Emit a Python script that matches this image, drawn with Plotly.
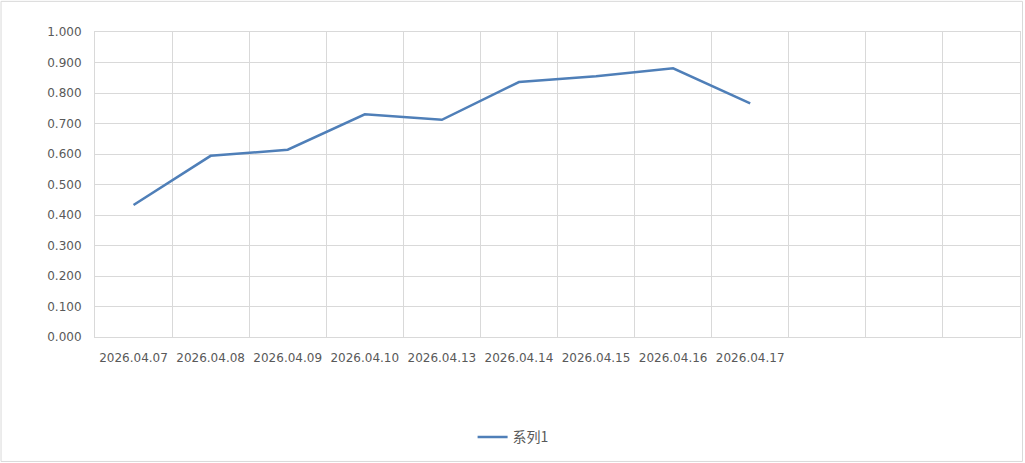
import plotly.graph_objects as go

dates = ["2026.04.07", "2026.04.08", "2026.04.09", "2026.04.10", "2026.04.13",
         "2026.04.14", "2026.04.15", "2026.04.16", "2026.04.17"]
empty_slots = [" ", "  ", "   "]
values = [0.433, 0.594, 0.614, 0.730, 0.712, 0.836, 0.855, 0.881, 0.766]
series_name = "系列1"

grid = "#d9d9d9"
txt = "#595959"

fig = go.Figure()
fig.add_trace(go.Scatter(
    x=dates, y=values, mode="lines", name=series_name,
    line=dict(color="#4f7fb8", width=2.5),
))

fig.update_layout(
    width=1025, height=463,
    margin=dict(l=95, r=4.5, t=31.7, b=125.7),
    paper_bgcolor="white", plot_bgcolor="white",
    font=dict(family="DejaVu Sans", size=12, color=txt),
    showlegend=True,
    legend=dict(orientation="h", x=0.452, xanchor="center", y=-0.329, yanchor="middle",
                font=dict(family="Noto Sans CJK SC", size=14, color=txt)),
    xaxis=dict(type="category", categoryorder="array",
               categoryarray=dates + empty_slots,
               range=[-0.5, len(dates) + len(empty_slots) - 0.5],
               tickson="boundaries", ticks="", showgrid=True, gridcolor=grid, gridwidth=1,
               showline=True, linecolor=grid, linewidth=1, mirror=True,
               ticklabelstandoff=10, tickfont=dict(color=txt, size=12)),
    yaxis=dict(range=[0, 1], dtick=0.1, tickformat=".3f", showgrid=True, gridcolor=grid,
               gridwidth=1, zeroline=False, showline=True, linecolor=grid, linewidth=1,
               mirror=True, ticks="", ticklabelstandoff=10, tickfont=dict(color=txt, size=12)),
    shapes=[dict(type="rect", xref="paper", yref="paper",
                 x0=-0.1016, x1=1.0027, y0=-0.408, y1=1.1005,
                 line=dict(color=grid, width=1), fillcolor="rgba(0,0,0,0)", layer="below")],
)

fig.write_html("out.html", config={"displayModeBar": False},
               post_script="document.body.style.margin='0';document.body.style.overflow='hidden';")
